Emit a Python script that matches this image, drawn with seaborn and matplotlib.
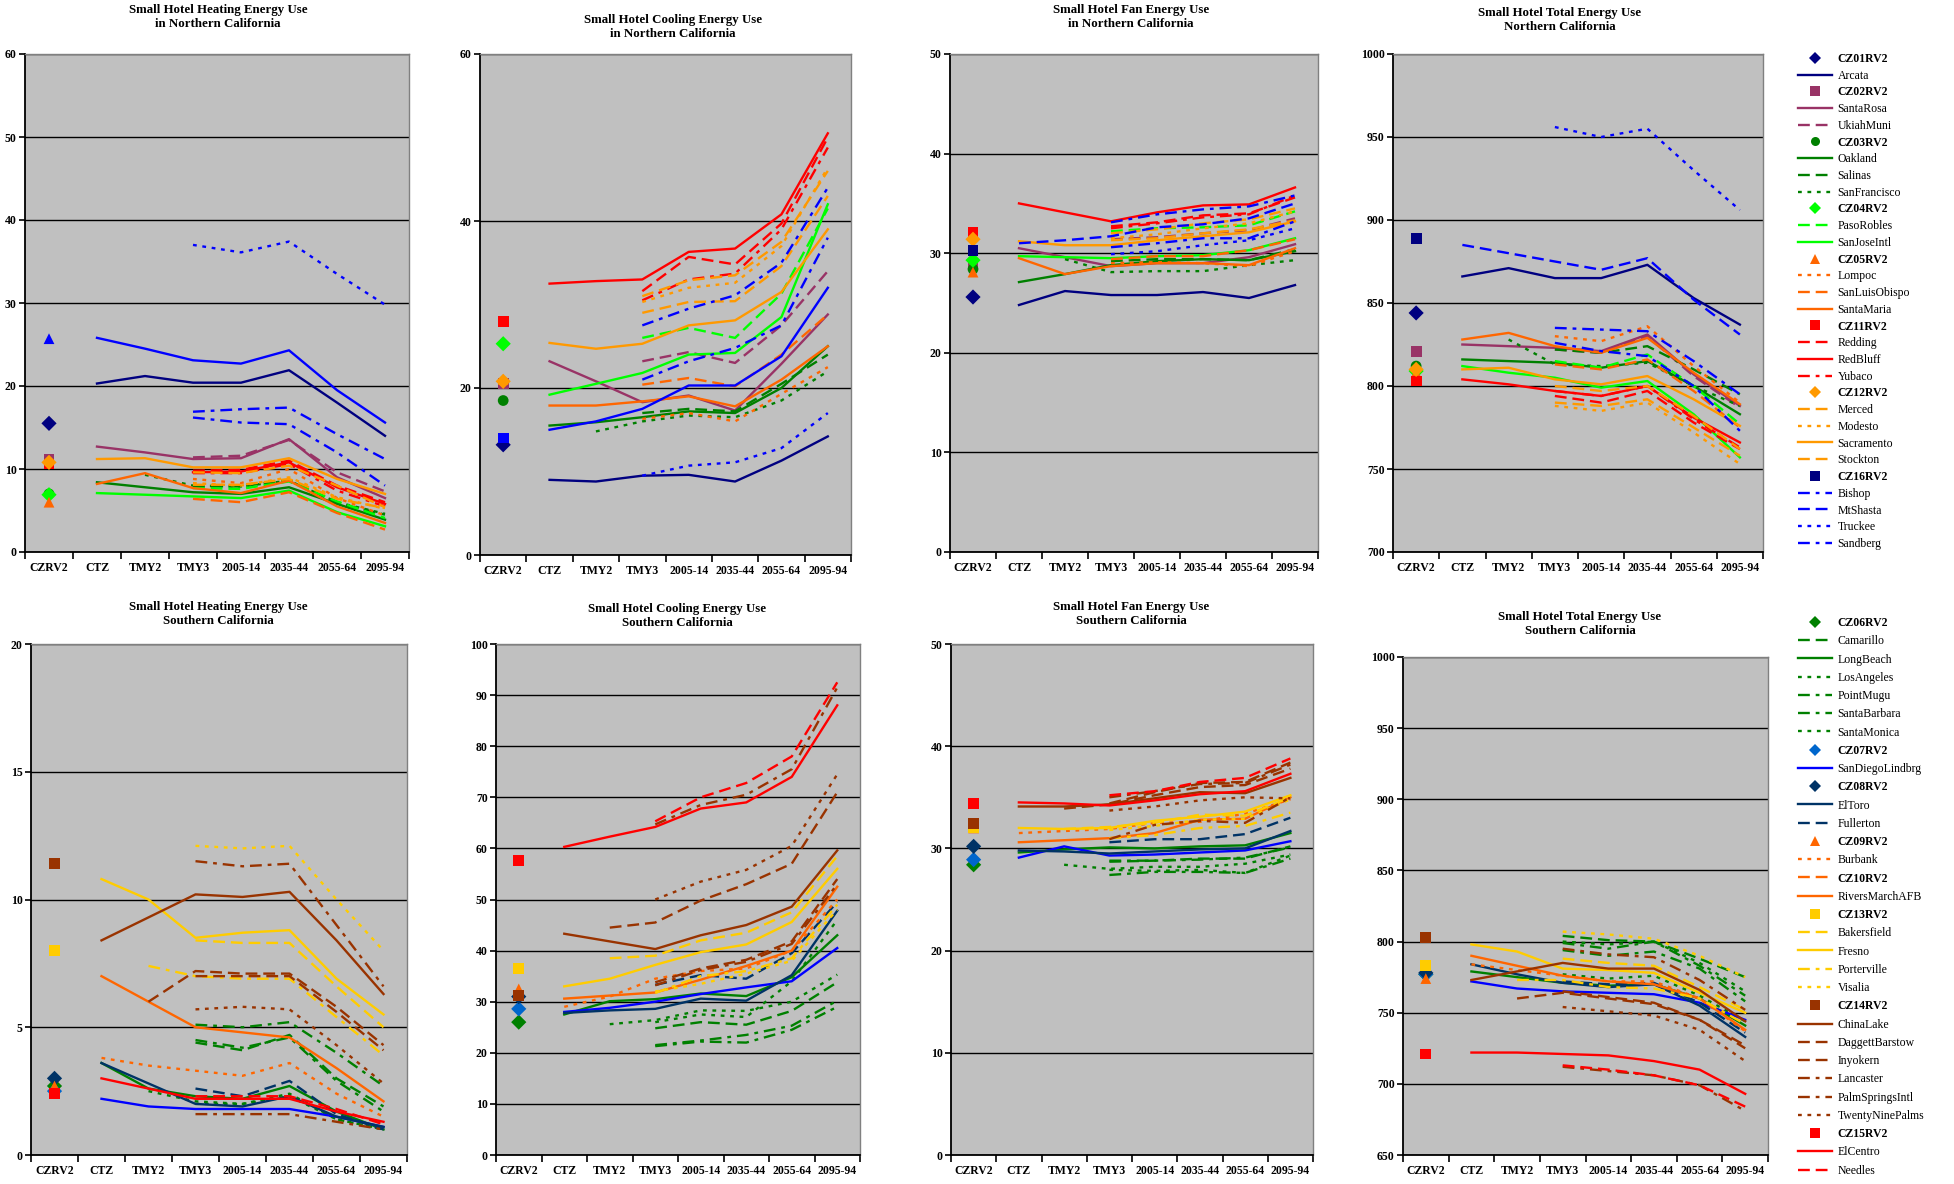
import numpy as np
import pandas as pd
import matplotlib
matplotlib.use("Agg")
import matplotlib.pyplot as plt
from matplotlib.lines import Line2D
import seaborn as sns

plt.rcParams["font.family"] = ["Liberation Serif", "DejaVu Serif"]

nan = np.nan

periods = ["CZRV2", "CTZ", "TMY2", "TMY3", "2005-14", "2035-44", "2055-64", "2095-94"]

# ---------------------------------------------------------------- colours / styles
NAVY, PLUM, GREEN, LIME = "#000080", "#993366", "#008000", "#00FF00"
ORANGE, RED, AMBER, BLUE = "#FF6600", "#FF0000", "#FF9900", "#0000FF"
DKBLUE, SKY, GOLD, BROWN = "#003366", "#0066CC", "#FFCC00", "#993300"

SOLID = ""
DASH = (5, 2.5)
DOT = (1.6, 2.4)
DASHDOT = (5, 2.5, 1.6, 2.5)

# zone -> (marker colour, marker, stations in legend order)
north_zones = {
    "CZ01RV2": (NAVY, "D", ["Arcata"]),
    "CZ02RV2": (PLUM, "s", ["SantaRosa", "UkiahMuni"]),
    "CZ03RV2": (GREEN, "o", ["Oakland", "Salinas", "SanFrancisco"]),
    "CZ04RV2": (LIME, "D", ["PasoRobles", "SanJoseIntl"]),
    "CZ05RV2": (ORANGE, "^", ["Lompoc", "SanLuisObispo", "SantaMaria"]),
    "CZ11RV2": (RED, "s", ["Redding", "RedBluff", "Yubaco"]),
    "CZ12RV2": (AMBER, "D", ["Merced", "Modesto", "Sacramento", "Stockton"]),
    "CZ16RV2": (NAVY, "s", ["Bishop", "MtShasta", "Truckee", "Sandberg"]),
}
north_styles = {
    "Arcata": (NAVY, SOLID), "SantaRosa": (PLUM, SOLID), "UkiahMuni": (PLUM, DASH),
    "Oakland": (GREEN, SOLID), "Salinas": (GREEN, DASH), "SanFrancisco": (GREEN, DOT),
    "PasoRobles": (LIME, DASH), "SanJoseIntl": (LIME, SOLID),
    "Lompoc": (ORANGE, DOT), "SanLuisObispo": (ORANGE, DASH), "SantaMaria": (ORANGE, SOLID),
    "Redding": (RED, DASH), "RedBluff": (RED, SOLID), "Yubaco": (RED, DASHDOT),
    "Merced": (AMBER, DASH), "Modesto": (AMBER, DOT), "Sacramento": (AMBER, SOLID),
    "Stockton": (AMBER, DASH),
    "Bishop": (BLUE, DASHDOT), "MtShasta": (BLUE, DASH), "Truckee": (BLUE, DOT),
    "Sandberg": (BLUE, DASHDOT),
}

south_zones = {
    "CZ06RV2": (GREEN, "D", ["Camarillo", "LongBeach", "LosAngeles", "PointMugu",
                             "SantaBarbara", "SantaMonica"]),
    "CZ07RV2": (SKY, "D", ["SanDiegoLindbrg"]),
    "CZ08RV2": (DKBLUE, "D", ["ElToro", "Fullerton"]),
    "CZ09RV2": (ORANGE, "^", ["Burbank"]),
    "CZ10RV2": (ORANGE, None, ["RiversMarchAFB"]),
    "CZ13RV2": (GOLD, "s", ["Bakersfield", "Fresno", "Porterville", "Visalia"]),
    "CZ14RV2": (BROWN, "s", ["ChinaLake", "DaggettBarstow", "Inyokern", "Lancaster",
                             "PalmSpringsIntl", "TwentyNinePalms"]),
    "CZ15RV2": (RED, "s", ["ElCentro", "Needles"]),
}
south_styles = {
    "Camarillo": (GREEN, DASH), "LongBeach": (GREEN, SOLID), "LosAngeles": (GREEN, DOT),
    "PointMugu": (GREEN, DASHDOT), "SantaBarbara": (GREEN, DASHDOT), "SantaMonica": (GREEN, DOT),
    "SanDiegoLindbrg": (BLUE, SOLID),
    "ElToro": (DKBLUE, SOLID), "Fullerton": (DKBLUE, DASH),
    "Burbank": (ORANGE, DOT), "RiversMarchAFB": (ORANGE, SOLID),
    "Bakersfield": (GOLD, DASH), "Fresno": (GOLD, SOLID), "Porterville": (GOLD, DASHDOT),
    "Visalia": (GOLD, DOT),
    "ChinaLake": (BROWN, SOLID), "DaggettBarstow": (BROWN, DASH), "Inyokern": (BROWN, DASH),
    "Lancaster": (BROWN, DASHDOT), "PalmSpringsIntl": (BROWN, DASHDOT),
    "TwentyNinePalms": (BROWN, DOT),
    "ElCentro": (RED, SOLID), "Needles": (RED, DASH),
}

# ---------------------------------------------------------------- data
# zone (CZRV2) values, then station values for CTZ .. 2095-94

heat_north_cz = {"CZ01RV2": 15.5, "CZ02RV2": 11.1, "CZ03RV2": 7.0, "CZ04RV2": 6.9,
                 "CZ05RV2": 6.0, "CZ11RV2": 10.6, "CZ12RV2": 10.8, "CZ16RV2": 25.7}
heat_north = {
    "Arcata": [20.3, 21.2, 20.4, 20.4, 21.9, 18.0, 14.0],
    "SantaRosa": [12.7, 12.0, 11.2, 11.3, 13.6, 9.0, 6.5],
    "UkiahMuni": [nan, nan, 11.4, 11.6, 13.5, 9.6, 7.3],
    "Oakland": [8.4, 7.8, 7.2, 7.0, 7.8, 5.8, 3.9],
    "Salinas": [nan, nan, 7.9, 7.9, 8.7, 5.9, 4.5],
    "SanFrancisco": [nan, 9.3, 8.0, 7.9, 8.6, 6.0, 4.6],
    "PasoRobles": [nan, nan, 7.7, 7.6, 8.5, 6.1, 4.1],
    "SanJoseIntl": [7.1, 6.9, 6.7, 6.5, 7.4, 4.8, 3.1],
    "Lompoc": [nan, nan, 8.8, 8.3, 10.0, 6.5, 4.4],
    "SanLuisObispo": [nan, nan, 6.4, 6.0, 7.2, 4.7, 2.7],
    "SantaMaria": [8.2, 9.5, 7.7, 7.1, 8.6, 5.5, 3.5],
    "Redding": [nan, nan, 9.8, 9.9, 11.0, 8.0, 6.0],
    "RedBluff": [nan, nan, 9.6, 9.7, 10.8, 7.8, 5.8],
    "Yubaco": [nan, nan, 9.5, 9.5, 10.6, 7.4, 5.5],
    "Merced": [nan, nan, 9.6, 9.5, 10.4, 8.0, 5.4],
    "Modesto": [nan, nan, 8.3, 8.0, 9.0, 6.6, 5.2],
    "Sacramento": [11.2, 11.3, 10.2, 10.2, 11.3, 8.8, 7.0],
    "Stockton": [nan, nan, 8.1, 8.1, 8.8, 6.4, 5.3],
    "Bishop": [nan, nan, 16.9, 17.2, 17.4, 14.2, 11.2],
    "MtShasta": [25.8, 24.5, 23.1, 22.7, 24.3, 19.5, 15.6],
    "Truckee": [nan, nan, 37.0, 36.1, 37.4, 33.5, 29.8],
    "Sandberg": [nan, nan, 16.2, 15.6, 15.4, 12.0, 8.0],
}

cool_north_cz = {"CZ01RV2": 13.2, "CZ02RV2": 20.5, "CZ03RV2": 18.5, "CZ04RV2": 25.3,
                 "CZ05RV2": 21.0, "CZ11RV2": 28.0, "CZ12RV2": 20.8, "CZ16RV2": 14.0}
cool_north = {
    "Arcata": [9.0, 8.8, 9.5, 9.6, 8.8, 11.3, 14.2],
    "SantaRosa": [23.2, 20.8, 18.3, 19.1, 17.3, 22.9, 28.8],
    "UkiahMuni": [nan, nan, 23.2, 24.3, 23.0, 27.5, 34.0],
    "Oakland": [15.5, 15.9, 16.5, 17.2, 17.0, 20.0, 25.0],
    "Salinas": [nan, nan, 17.0, 17.5, 17.2, 20.5, 24.0],
    "SanFrancisco": [nan, 14.8, 16.0, 16.7, 16.5, 18.5, 22.0],
    "PasoRobles": [nan, nan, 26.0, 27.2, 26.0, 31.3, 41.5],
    "SanJoseIntl": [19.2, 20.5, 21.8, 24.0, 24.2, 28.5, 42.0],
    "Lompoc": [nan, nan, 16.3, 17.0, 16.0, 19.3, 22.5],
    "SanLuisObispo": [nan, nan, 20.4, 21.2, 20.2, 24.0, 28.8],
    "SantaMaria": [17.9, 17.9, 18.4, 19.0, 17.8, 21.0, 25.0],
    "Redding": [nan, nan, 31.6, 35.7, 34.8, 39.7, 50.0],
    "RedBluff": [32.5, 32.8, 33.0, 36.3, 36.7, 40.8, 50.5],
    "Yubaco": [nan, nan, 30.5, 33.0, 33.7, 39.0, 48.8],
    "Merced": [nan, nan, 31.0, 32.9, 33.5, 37.5, 46.0],
    "Modesto": [nan, nan, 30.3, 32.0, 32.6, 37.0, 46.4],
    "Sacramento": [25.4, 24.7, 25.3, 27.5, 28.1, 31.5, 39.0],
    "Stockton": [nan, nan, 29.0, 30.3, 30.4, 34.6, 43.0],
    "Bishop": [nan, nan, 27.5, 29.5, 31.1, 35.0, 44.0],
    "MtShasta": [15.0, 16.0, 17.5, 20.3, 20.3, 23.8, 32.0],
    "Truckee": [nan, nan, 9.5, 10.7, 11.1, 12.8, 17.0],
    "Sandberg": [nan, nan, 21.0, 23.2, 24.8, 27.5, 38.0],
}

fan_north_cz = {"CZ01RV2": 25.6, "CZ02RV2": 29.0, "CZ03RV2": 28.4, "CZ04RV2": 29.3,
                "CZ05RV2": 28.1, "CZ11RV2": 32.1, "CZ12RV2": 31.4, "CZ16RV2": 30.3}
fan_north = {
    "Arcata": [24.8, 26.2, 25.8, 25.8, 26.1, 25.5, 26.8],
    "SantaRosa": [30.5, 29.6, 28.7, 29.0, 29.0, 29.6, 30.9],
    "UkiahMuni": [nan, nan, 31.4, 31.6, 32.0, 32.3, 33.5],
    "Oakland": [27.1, 27.9, 28.8, 29.2, 29.4, 29.3, 30.2],
    "Salinas": [nan, nan, 29.2, 29.4, 29.4, 29.3, 30.4],
    "SanFrancisco": [nan, 29.4, 28.1, 28.2, 28.2, 28.8, 29.3],
    "PasoRobles": [nan, nan, 32.2, 32.5, 32.6, 32.8, 34.2],
    "SanJoseIntl": [29.7, 29.6, 29.5, 29.7, 29.8, 30.3, 31.5],
    "Lompoc": [nan, nan, 29.0, 29.1, 29.0, 28.7, 30.2],
    "SanLuisObispo": [nan, nan, 29.4, 29.7, 29.7, 30.3, 31.4],
    "SantaMaria": [29.5, 27.9, 28.7, 29.0, 29.0, 28.8, 30.5],
    "Redding": [nan, nan, 32.7, 33.1, 33.8, 34.0, 35.6],
    "RedBluff": [35.0, 34.1, 33.2, 34.1, 34.8, 34.9, 36.6],
    "Yubaco": [nan, nan, 32.5, 33.0, 33.6, 33.9, 35.8],
    "Merced": [nan, nan, 32.0, 32.4, 33.0, 33.4, 34.5],
    "Modesto": [nan, nan, 31.5, 31.9, 32.5, 33.0, 34.2],
    "Sacramento": [31.2, 30.8, 30.8, 31.3, 31.7, 32.1, 33.2],
    "Stockton": [nan, nan, 31.3, 31.5, 32.0, 32.4, 33.3],
    "Bishop": [nan, nan, 33.1, 33.9, 34.4, 34.7, 35.8],
    "MtShasta": [31.0, 31.3, 31.7, 32.6, 32.9, 33.5, 35.0],
    "Truckee": [nan, nan, 29.9, 30.2, 30.8, 31.3, 32.5],
    "Sandberg": [nan, nan, 30.6, 31.0, 31.5, 31.5, 33.2],
}

total_north_cz = {"CZ01RV2": 844, "CZ02RV2": 821, "CZ03RV2": 812, "CZ04RV2": 809,
                  "CZ05RV2": 808, "CZ11RV2": 803, "CZ12RV2": 810, "CZ16RV2": 889}
total_north = {
    "Arcata": [866, 871, 865, 865, 873, 853, 837],
    "SantaRosa": [825, 824, 823, 821, 831, 807, 788],
    "UkiahMuni": [nan, nan, 822, 820, 830, 806, 787],
    "Oakland": [816, 815, 814, 811, 815, 800, 783],
    "Salinas": [nan, nan, 822, 820, 824, 810, 795],
    "SanFrancisco": [nan, 828, 813, 812, 814, 800, 788],
    "PasoRobles": [nan, nan, 815, 811, 819, 800, 777],
    "SanJoseIntl": [812, 808, 805, 799, 803, 783, 757],
    "Lompoc": [nan, nan, 830, 827, 836, 812, 790],
    "SanLuisObispo": [nan, nan, 813, 810, 816, 797, 775],
    "SantaMaria": [828, 832, 824, 820, 829, 808, 789],
    "Redding": [nan, nan, 794, 790, 797, 778, 762],
    "RedBluff": [804, 801, 797, 794, 800, 781, 766],
    "Yubaco": [nan, nan, 797, 794, 800, 780, 763],
    "Merced": [nan, nan, 800, 797, 800, 782, 762],
    "Modesto": [nan, nan, 788, 785, 790, 772, 753],
    "Sacramento": [810, 811, 804, 801, 806, 792, 776],
    "Stockton": [nan, nan, 790, 788, 792, 775, 758],
    "Bishop": [nan, nan, 835, 834, 833, 815, 795],
    "MtShasta": [885, 880, 875, 870, 877, 852, 831],
    "Truckee": [nan, nan, 956, 950, 955, 930, 906],
    "Sandberg": [nan, nan, 826, 821, 818, 800, 773],
}

heat_south_cz = {"CZ06RV2": 2.7, "CZ07RV2": 2.5, "CZ08RV2": 3.0, "CZ09RV2": 2.7,
                 "CZ13RV2": 8.0, "CZ14RV2": 11.4, "CZ15RV2": 2.4}
heat_south = {
    "Camarillo": [nan, nan, 4.4, 4.1, 4.7, 3.0, 1.9],
    "LongBeach": [3.6, 2.6, 2.3, 2.2, 2.7, 1.7, 1.0],
    "LosAngeles": [nan, 2.5, 2.1, 2.0, 2.4, 1.4, 1.0],
    "PointMugu": [nan, nan, 4.5, 4.2, 4.6, 2.9, 1.7],
    "SantaBarbara": [nan, nan, 5.1, 5.0, 5.2, 4.0, 2.7],
    "SantaMonica": [nan, nan, 2.0, 2.0, 2.3, 1.4, 1.0],
    "SanDiegoLindbrg": [2.2, 1.9, 1.8, 1.8, 1.8, 1.5, 1.1],
    "ElToro": [3.6, 2.8, 2.0, 1.9, 2.3, 1.5, 1.1],
    "Fullerton": [nan, nan, 2.6, 2.3, 2.9, 1.6, 1.0],
    "Burbank": [3.8, 3.5, 3.3, 3.1, 3.6, 2.4, 1.5],
    "RiversMarchAFB": [7.0, 6.0, 5.0, 4.8, 4.6, 3.4, 2.1],
    "Bakersfield": [nan, nan, 8.4, 8.3, 8.3, 6.6, 5.0],
    "Fresno": [10.8, 10.0, 8.5, 8.7, 8.8, 6.9, 5.5],
    "Porterville": [nan, 7.4, 7.0, 6.9, 6.9, 5.4, 3.9],
    "Visalia": [nan, nan, 12.1, 12.0, 12.1, 10.0, 8.0],
    "ChinaLake": [8.4, 9.3, 10.2, 10.1, 10.3, 8.4, 6.3],
    "DaggettBarstow": [nan, 6.0, 7.2, 7.1, 7.1, 5.8, 4.3],
    "Inyokern": [nan, nan, 7.0, 7.0, 7.0, 5.6, 4.1],
    "Lancaster": [nan, nan, 11.5, 11.3, 11.4, 9.0, 6.6],
    "PalmSpringsIntl": [nan, nan, 1.6, 1.6, 1.6, 1.3, 1.0],
    "TwentyNinePalms": [nan, nan, 5.7, 5.8, 5.7, 4.3, 2.8],
    "ElCentro": [3.0, 2.6, 2.2, 2.2, 2.2, 1.7, 1.3],
    "Needles": [nan, nan, 2.3, 2.3, 2.3, 1.8, 1.2],
}

cool_south_cz = {"CZ06RV2": 26.0, "CZ07RV2": 28.6, "CZ08RV2": 31.0, "CZ09RV2": 32.5,
                 "CZ13RV2": 36.5, "CZ14RV2": 31.2, "CZ15RV2": 57.7}
cool_south = {
    "Camarillo": [nan, nan, 24.8, 26.0, 25.5, 28.2, 33.8],
    "LongBeach": [27.5, 30.1, 30.5, 31.6, 31.1, 34.8, 43.0],
    "LosAngeles": [nan, 25.6, 26.4, 28.3, 28.2, 30.0, 35.3],
    "PointMugu": [nan, nan, 21.5, 22.4, 23.5, 25.3, 30.2],
    "SantaBarbara": [nan, nan, 21.3, 22.2, 22.0, 24.5, 29.0],
    "SantaMonica": [nan, nan, 26.0, 27.5, 27.0, 34.0, 46.0],
    "SanDiegoLindbrg": [28.0, 28.8, 30.0, 31.5, 32.8, 34.0, 40.5],
    "ElToro": [27.8, 28.3, 28.6, 30.6, 30.2, 35.2, 47.8],
    "Fullerton": [nan, nan, 33.3, 35.2, 34.5, 39.5, 49.5],
    "Burbank": [29.0, 31.0, 34.5, 36.0, 36.5, 40.0, 50.0],
    "RiversMarchAFB": [30.6, 31.2, 31.8, 34.3, 37.0, 40.0, 52.5],
    "Bakersfield": [nan, 38.5, 39.0, 42.0, 43.5, 47.5, 58.5],
    "Fresno": [33.0, 34.5, 37.2, 39.7, 41.2, 45.6, 56.0],
    "Porterville": [nan, nan, 31.7, 35.0, 36.0, 38.5, 49.0],
    "Visalia": [nan, nan, 32.0, 33.5, 35.5, 38.0, 48.0],
    "ChinaLake": [43.3, 41.8, 40.3, 43.0, 45.0, 48.6, 59.6],
    "DaggettBarstow": [nan, 44.5, 45.5, 49.8, 53.0, 57.0, 71.0],
    "Inyokern": [nan, nan, 33.8, 36.5, 38.2, 41.8, 54.0],
    "Lancaster": [nan, nan, 33.2, 36.2, 37.8, 41.3, 53.0],
    "PalmSpringsIntl": [nan, nan, 64.7, 68.5, 70.5, 75.5, 91.5],
    "TwentyNinePalms": [nan, nan, 50.0, 53.5, 55.8, 60.5, 74.5],
    "ElCentro": [60.3, 62.3, 64.2, 67.8, 69.0, 74.0, 88.0],
    "Needles": [nan, nan, 65.3, 70.0, 72.8, 78.0, 92.5],
}

fan_south_cz = {"CZ06RV2": 28.4, "CZ07RV2": 28.9, "CZ08RV2": 30.2, "CZ09RV2": 32.0,
                "CZ13RV2": 32.0, "CZ14RV2": 32.4, "CZ15RV2": 34.4}
fan_south = {
    "Camarillo": [nan, nan, 28.7, 28.8, 29.0, 29.0, 30.2],
    "LongBeach": [29.6, 29.9, 30.1, 30.0, 30.2, 30.3, 31.5],
    "LosAngeles": [nan, 28.4, 28.0, 28.2, 28.2, 28.5, 29.4],
    "PointMugu": [nan, nan, 28.8, 28.8, 28.9, 29.1, 30.1],
    "SantaBarbara": [nan, nan, 27.4, 27.7, 27.7, 27.6, 29.0],
    "SantaMonica": [nan, nan, 27.9, 27.8, 27.9, 27.6, 29.3],
    "SanDiegoLindbrg": [29.1, 30.2, 29.3, 29.4, 29.6, 29.8, 30.7],
    "ElToro": [29.8, 29.7, 29.5, 29.7, 29.9, 30.0, 31.7],
    "Fullerton": [nan, nan, 30.6, 30.9, 30.9, 31.4, 33.0],
    "Burbank": [31.5, 31.7, 31.9, 32.5, 32.6, 33.4, 34.8],
    "RiversMarchAFB": [30.6, 30.8, 31.0, 31.5, 32.8, 32.9, 35.0],
    "Bakersfield": [nan, 31.9, 32.1, 32.5, 33.3, 33.2, 35.0],
    "Fresno": [32.0, 31.9, 32.0, 32.7, 33.1, 33.6, 35.2],
    "Porterville": [nan, nan, 31.0, 31.3, 32.0, 32.2, 33.5],
    "Visalia": [nan, nan, 31.8, 32.2, 32.8, 32.9, 34.8],
    "ChinaLake": [34.1, 34.1, 34.3, 34.9, 35.5, 35.4, 36.9],
    "DaggettBarstow": [nan, nan, 34.4, 35.5, 36.4, 36.5, 38.4],
    "Inyokern": [nan, 33.9, 34.3, 35.2, 36.0, 36.2, 37.8],
    "Lancaster": [nan, nan, 30.9, 32.3, 32.7, 32.5, 35.0],
    "PalmSpringsIntl": [nan, nan, 35.0, 35.6, 36.3, 36.4, 38.2],
    "TwentyNinePalms": [nan, nan, 33.7, 34.1, 34.7, 35.0, 34.9],
    "ElCentro": [34.5, 34.4, 34.2, 34.7, 35.3, 35.6, 37.3],
    "Needles": [nan, nan, 35.2, 35.6, 36.5, 36.9, 38.8],
}

total_south_cz = {"CZ06RV2": 777, "CZ07RV2": 777, "CZ08RV2": 778, "CZ09RV2": 774,
                  "CZ13RV2": 783, "CZ14RV2": 803, "CZ15RV2": 721}
total_south = {
    "Camarillo": [nan, nan, 804, 801, 800, 788, 775],
    "LongBeach": [779, 775, 771, 769, 770, 760, 741],
    "LosAngeles": [nan, nan, 777, 774, 776, 762, 744],
    "PointMugu": [nan, nan, 799, 795, 800, 783, 762],
    "SantaBarbara": [nan, nan, 794, 790, 793, 781, 758],
    "SantaMonica": [nan, nan, 800, 798, 800, 785, 765],
    "SanDiegoLindbrg": [772, 767, 765, 764, 763, 757, 745],
    "ElToro": [784, 777, 771, 768, 770, 755, 733],
    "Fullerton": [nan, nan, 772, 770, 771, 757, 736],
    "Burbank": [784, 780, 776, 772, 772, 760, 737],
    "RiversMarchAFB": [790, 783, 776, 772, 770, 760, 738],
    "Bakersfield": [nan, nan, 788, 785, 783, 768, 752],
    "Fresno": [798, 793, 781, 780, 778, 764, 750],
    "Porterville": [nan, 773, 773, 768, 767, 760, 742],
    "Visalia": [nan, nan, 807, 805, 802, 790, 775],
    "ChinaLake": [773, 779, 785, 781, 781, 766, 744],
    "DaggettBarstow": [nan, 760, 764, 760, 756, 745, 725],
    "Inyokern": [nan, nan, 765, 761, 757, 745, 727],
    "Lancaster": [nan, nan, 795, 791, 789, 773, 752],
    "PalmSpringsIntl": [nan, nan, 712, 709, 706, 699, 681],
    "TwentyNinePalms": [nan, nan, 754, 751, 748, 738, 716],
    "ElCentro": [722, 722, 721, 720, 716, 710, 693],
    "Needles": [nan, nan, 713, 710, 706, 699, 684],
}

# zone markers / station lines that differ from the legend in individual charts
marker_overrides = {
    "heat_north": {"CZ16RV2": (BLUE, "^")},
    "cool_north": {"CZ16RV2": (BLUE, "s")},
}
line_overrides = {
    "heat_north": {"MtShasta": SOLID},
    "cool_north": {"MtShasta": SOLID},
}

# ---------------------------------------------------------------- figure
W, H = 1954, 1184
fig = plt.figure(figsize=(W / 100, H / 100), dpi=100)
fig.patch.set_facecolor("white")


def rect(l, t, r, b):
    return [l / W, 1 - b / H, (r - l) / W, (b - t) / H]


TICKFONT = dict(fontsize=8.5, fontweight="bold")


def draw_panel(key, box, series, cz_vals, zones, styles, ylo, yhi, step,
               title, title_xy):
    ax = fig.add_axes(rect(*box))
    ax.set_facecolor("#C0C0C0")

    rows = []
    for name, vals in series.items():
        for i, v in enumerate(vals):
            if not np.isnan(v):
                rows.append((name, i + 1, v))
    df = pd.DataFrame(rows, columns=["station", "period", "value"])
    order = list(series)
    lo = line_overrides.get(key, {})
    sns.lineplot(data=df, x="period", y="value", hue="station", style="station",
                 hue_order=order, style_order=order,
                 palette={k: styles[k][0] for k in order},
                 dashes={k: lo.get(k, styles[k][1]) for k in order},
                 estimator=None, sort=True, lw=1.7, legend=False, ax=ax)

    over = marker_overrides.get(key, {})
    pts = []
    for z, v in cz_vals.items():
        if z in zones and zones[z][1] is not None and not np.isnan(v):
            pts.append((z, 0, v))
    pdf = pd.DataFrame(pts, columns=["zone", "period", "value"])
    zorder = list(pdf["zone"])
    pal = {z: over.get(z, zones[z][:2])[0] for z in zorder}
    mk = {z: over.get(z, zones[z][:2])[1] for z in zorder}
    sns.scatterplot(data=pdf, x="period", y="value", hue="zone", style="zone",
                    hue_order=zorder, style_order=zorder, palette=pal, markers=mk,
                    s=60, linewidth=0, legend=False, ax=ax, zorder=3)

    ax.set_xlim(-0.5, 7.5)
    ax.set_ylim(ylo, yhi)
    ticks = np.arange(ylo, yhi + step / 2, step)
    ax.set_yticks(ticks)
    ax.set_yticklabels([f"{int(t)}" for t in ticks], **TICKFONT)
    ax.yaxis.grid(True, color="black", lw=1.0)
    ax.set_axisbelow(True)
    ax.set_xticks(np.arange(-0.5, 8.0, 1.0))
    ax.set_xticklabels([])
    ax.set_xticks(np.arange(8), minor=True)
    ax.set_xticklabels(periods, minor=True, **TICKFONT)
    ax.tick_params(axis="x", which="major", length=5, width=1.2, direction="out")
    ax.tick_params(axis="x", which="minor", length=0, pad=7)
    ax.tick_params(axis="y", length=4, width=1.2, direction="out", pad=2)
    ax.set_xlabel("")
    ax.set_ylabel("")
    for s in ("left", "bottom"):
        ax.spines[s].set_color("black")
        ax.spines[s].set_linewidth(1.3)
    for s in ("top", "right"):
        ax.spines[s].set_color("#808080")
        ax.spines[s].set_linewidth(1.0)

    fig.text(title_xy[0] / W, 1 - title_xy[1] / H, title, ha="center", va="center",
             fontsize=9.3, fontweight="bold", linespacing=1.2)
    return ax


panels = [
    ("heat_north", (25, 54, 409, 552), heat_north, heat_north_cz, 0, 60, 10,
     "Small Hotel Heating Energy Use\nin Northern California", (218, 17)),
    ("cool_north", (480, 54, 851, 555), cool_north, cool_north_cz, 0, 60, 20,
     "Small Hotel Cooling Energy Use\nin Northern California", (673, 27)),
    ("fan_north", (950, 54, 1318, 552), fan_north, fan_north_cz, 0, 50, 10,
     "Small Hotel Fan Energy Use\nin Northern California", (1131, 17)),
    ("total_north", (1393, 54, 1763, 552), total_north, total_north_cz, 700, 1000, 50,
     "Small Hotel Total Energy Use\nNorthern California", (1560, 20)),
    ("heat_south", (31, 644, 407, 1155), heat_south, heat_south_cz, 0, 20, 5,
     "Small Hotel Heating Energy Use\nSouthern California", (218, 614)),
    ("cool_south", (496, 644, 860, 1155), cool_south, cool_south_cz, 0, 100, 10,
     "Small Hotel Cooling Energy Use\nSouthern California", (677, 616)),
    ("fan_south", (951, 644, 1313, 1155), fan_south, fan_south_cz, 0, 50, 10,
     "Small Hotel Fan Energy Use\nSouthern California", (1131, 614)),
    ("total_south", (1403, 657, 1768, 1155), total_south, total_south_cz, 650, 1000, 50,
     "Small Hotel Total Energy Use\nSouthern California", (1580, 624)),
]

for key, box, series, cz, lo, hi, step, title, txy in panels:
    if key.endswith("north"):
        draw_panel(key, box, series, cz, north_zones, north_styles, lo, hi, step, title, txy)
    else:
        draw_panel(key, box, series, cz, south_zones, south_styles, lo, hi, step, title, txy)


# ---------------------------------------------------------------- legends
def legend_entries(zones, styles):
    handles, labels, bold = [], [], []
    for z, (c, m, stations) in zones.items():
        if m is None:
            h = Line2D([], [], color=c, lw=1.7, linestyle=(0, DASH))
        else:
            h = Line2D([], [], color=c, marker=m, linestyle="None", markersize=6.5,
                       markeredgewidth=0)
        handles.append(h)
        labels.append(z)
        bold.append(True)
        for st in stations:
            c2, d = styles[st]
            ls = "-" if d == SOLID else (0, d)
            handles.append(Line2D([], [], color=c2, lw=1.7, linestyle=ls))
            labels.append(st)
            bold.append(False)
    return handles, labels, bold


for zones, styles, top, spacing in ((north_zones, north_styles, 53, 0.40),
                                    (south_zones, south_styles, 617, 0.53)):
    hs, ls, bold = legend_entries(zones, styles)
    leg = fig.legend(hs, ls, loc="upper left", bbox_to_anchor=(1798 / W, 1 - top / H),
                     frameon=False, fontsize=8.5, labelspacing=spacing, handlelength=2.9,
                     handletextpad=0.45, borderpad=0, borderaxespad=0)
    for t, b in zip(leg.get_texts(), bold):
        if b:
            t.set_fontweight("bold")

fig.savefig("out.png", dpi=100, facecolor="white")
